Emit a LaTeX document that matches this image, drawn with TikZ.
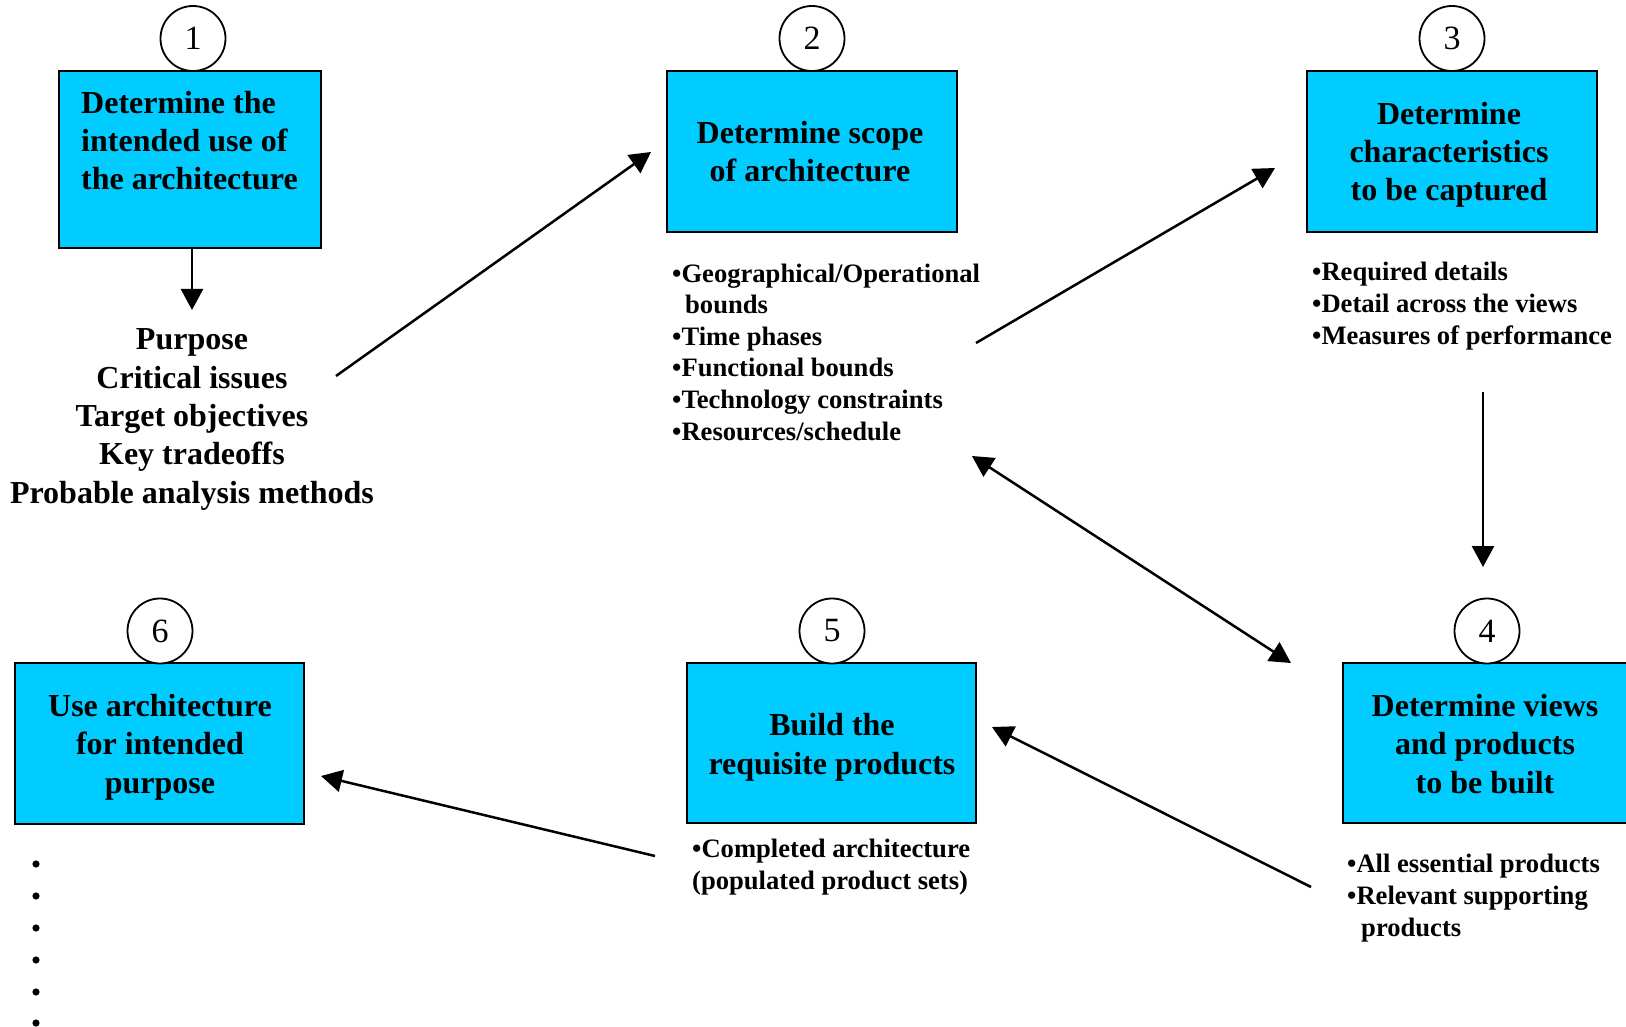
\documentclass[tikz,border=0pt]{standalone}
\usepackage{fontspec}
\setmainfont{Liberation Serif}
\usetikzlibrary{arrows.meta}
\definecolor{boxcyan}{RGB}{0,204,255}
\begin{document}
\begin{tikzpicture}[x=1pt,y=-1pt,
  stepbox/.style={draw=black, line width=2.4pt, fill=boxcyan, inner sep=0pt, rectangle},
  numcirc/.style={draw=black, line width=1.8pt, fill=white, circle, minimum size=65pt, inner sep=0pt, font=\fontsize{34}{40}\selectfont},
  boxtxt/.style={font=\fontsize{32}{38.3}\selectfont\bfseries, align=center, inner sep=0pt, anchor=base},
  boxtxtl/.style={font=\fontsize{32}{38.3}\selectfont\bfseries, align=left, inner sep=0pt, anchor=base west},
  listtxt/.style={font=\fontsize{26.6}{31.6}\selectfont\bfseries, align=left, inner sep=0pt, anchor=base west},
  conn/.style={line width=2.5pt, -{Triangle[length=21pt,width=22pt]}},
  dconn/.style={line width=2.5pt, {Triangle[length=21pt,width=22pt]}-{Triangle[length=21pt,width=22pt]}}]
\useasboundingbox (0,0) rectangle (1626,1027);
\clip (0,0) rectangle (1626,1027);

% boxes
\node[stepbox, minimum width=262pt, minimum height=177pt] (b1) at (190,159.5) {};
\node[stepbox, minimum width=290pt, minimum height=161pt] (b2) at (812,151.5) {};
\node[stepbox, minimum width=290pt, minimum height=161pt] (b3) at (1452,151.5) {};
\node[stepbox, minimum width=290pt, minimum height=160pt] (b4) at (1488,743) {};
\node[stepbox, minimum width=289pt, minimum height=160pt] (b5) at (831.5,743) {};
\node[stepbox, minimum width=289pt, minimum height=161pt] (b6) at (159.5,743.5) {};

% numbers
\node[numcirc] (c1) at (193,38.5) {1};
\node[numcirc] (c2) at (812,38.5) {2};
\node[numcirc] (c3) at (1452,38.5) {3};
\node[numcirc] (c4) at (1487,631) {4};
\node[numcirc] (c5) at (832,631) {5};
\node[numcirc] (c6) at (160,631) {6};

% box texts (anchor = baseline of the last line)
\node[boxtxtl] (t1) at (81,190) {Determine the\\intended use of\\the architecture};
\node[boxtxt] (t2) at (810,182) {Determine scope\\of architecture};
\node[boxtxt] (t3) at (1449,201) {Determine\\characteristics\\to be captured};
\node[boxtxt] (t4) at (1485,793) {Determine views\\and products\\to be built};
\node[boxtxt] (t5) at (832,774) {Build the\\requisite products};
\node[boxtxt] (t6) at (160,793) {Use architecture\\for intended\\purpose};

% lists
\node[boxtxt] (l1) at (192,503) {Purpose\\Critical issues\\Target objectives\\Key tradeoffs\\Probable analysis methods};
\node[listtxt] (l2) at (672,440) {•Geographical/Operational\\\hspace*{13pt}bounds\\•Time phases\\•Functional bounds\\•Technology constraints\\•Resources/schedule};
\node[listtxt] (l3) at (1312,344) {•Required details\\•Detail across the views\\•Measures of performance};
\node[listtxt] (l4) at (1347,936) {•All essential products\\•Relevant supporting\\\hspace*{14pt}products};
\node[listtxt] (l5) at (692,889) {•Completed architecture\\(populated product sets)};

% dots under box 6
\foreach \yy in {864,896,928,960,992,1023} \fill (36,\yy) circle (3.6pt);

% connector end points
\coordinate (p1e) at (192,310);
\coordinate (p12s) at (336,376);
\coordinate (p12e) at (651,152);
\coordinate (p23s) at (976,343);
\coordinate (p23e) at (1275,168);
\coordinate (p34s) at (1483,392);
\coordinate (p34e) at (1483,567);
\coordinate (p24a) at (972,456);
\coordinate (p24b) at (1291,663);
\coordinate (p45s) at (1311,887);
\coordinate (p45e) at (992,727);
\coordinate (p56s) at (655,856);
\coordinate (p56e) at (321,776);

\draw[conn] (b1.south -| p1e) -- (p1e);
\draw[conn] (p12s) -- (p12e);
\draw[conn] (p23s) -- (p23e);
\draw[conn] (p34s) -- (p34e);
\draw[dconn] (p24a) -- (p24b);
\draw[conn] (p45s) -- (p45e);
\draw[conn] (p56s) -- (p56e);
\end{tikzpicture}
\end{document}
